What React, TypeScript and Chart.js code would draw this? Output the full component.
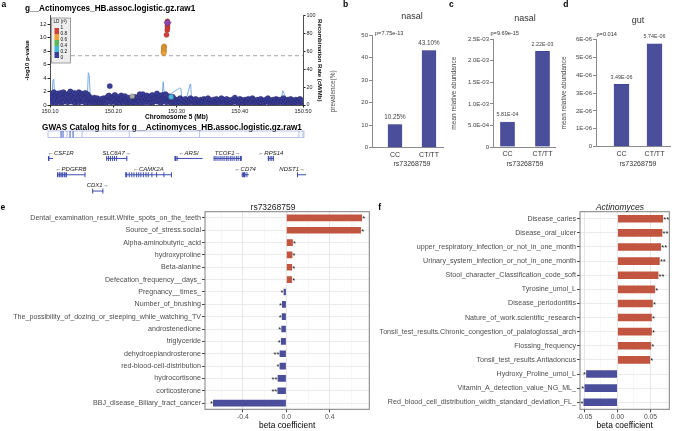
import React, { useEffect, useRef } from "react";
import { Chart, registerables } from "chart.js";
Chart.register(...registerables);

const FONT = '"Liberation Sans", Arial, Helvetica, sans-serif';
const NAVY = "#3A3D96";
const BAR_BLUE = "#4A4E9B";
const BAR_RED = "#C1553F";
const GENE_BLUE = "#3E4CB0";

// ---------------- Panel a : locus plot ----------------
const locusTitle = "g__Actinomyces_HB.assoc.logistic.gz.raw1";
const locusXTicks = [150.1, 150.2, 150.3, 150.4, 150.5];
const locusYTicks = [0, 2, 4, 6, 8, 10, 12];
const recombTicks = [0, 20, 40, 60, 80, 100];
const sigThreshold = 7.3;

const snpPos = [
  150.101, 150.1025, 150.1032, 150.1048, 150.106, 150.1071, 150.1085, 150.1093, 150.1108, 150.1117,
  150.113, 150.1142, 150.1155, 150.1163, 150.1178, 150.1186, 150.1199, 150.1212, 150.122, 150.1236,
  150.1244, 150.1258, 150.1265, 150.1279, 150.129, 150.1301, 150.1315, 150.1322, 150.1337, 150.1345,
  150.136, 150.1371, 150.1383, 150.1396, 150.1404, 150.1418, 150.143, 150.1441, 150.1455, 150.1462,
  150.1477, 150.1489, 150.1496, 150.151, 150.1523, 150.1531, 150.1546, 150.1558, 150.1567, 150.158,
  150.1592, 150.1604, 150.1617, 150.1625, 150.1639, 150.165, 150.1663, 150.1675, 150.1688, 150.1699,
  150.1712, 150.1724, 150.1737, 150.1745, 150.176, 150.1772, 150.1785, 150.1797, 150.181, 150.1821,
  150.1835, 150.1848, 150.1856, 150.187, 150.1882, 150.1895, 150.1908, 150.1917, 150.193, 150.1945,
  150.1958, 150.1966, 150.1979, 150.1992,
  150.2005, 150.2018, 150.2027, 150.204, 150.2052, 150.2066, 150.2075, 150.2089, 150.2101, 150.2113,
  150.2126, 150.2138, 150.2147, 150.216, 150.2172, 150.2185, 150.2197, 150.2209, 150.2222, 150.2235,
  150.2244, 150.2259, 150.227, 150.2283, 150.2296, 150.2318, 150.233, 150.2343, 150.2355, 150.2368,
  150.238, 150.2392, 150.2405, 150.2418, 150.243, 150.2443, 150.2455, 150.2468, 150.248, 150.2493,
  150.2505, 150.2518, 150.253, 150.2542, 150.2555, 150.2567, 150.258, 150.2592, 150.2604, 150.2617,
  150.2629, 150.2641, 150.2654, 150.2666, 150.2679, 150.2691, 150.2703, 150.2716, 150.2728, 150.2741,
  150.2753, 150.2766, 150.2778, 150.279, 150.2803, 150.2815, 150.2828, 150.284, 150.2852, 150.2865,
  150.2877, 150.289, 150.2902, 150.2915, 150.2927, 150.294, 150.2952, 150.2965, 150.2977, 150.299,
  150.3008, 150.3025, 150.3041, 150.3058, 150.3074, 150.309, 150.3106, 150.3123, 150.3139, 150.3155,
  150.3172, 150.3188, 150.3204, 150.3221, 150.3237, 150.3253, 150.327, 150.3286, 150.3302, 150.3318,
  150.3335, 150.3351, 150.3367, 150.3384, 150.34, 150.3416, 150.3433, 150.3449, 150.3465, 150.3482,
  150.3498, 150.3514, 150.3531, 150.3547, 150.3563, 150.358, 150.3596, 150.3612, 150.3629, 150.3645,
  150.3661, 150.3678, 150.3694, 150.371, 150.3727, 150.3743, 150.3759, 150.3776, 150.3792, 150.3808,
  150.3825, 150.3841, 150.3857, 150.3874, 150.389, 150.3906, 150.3923, 150.3939, 150.3955, 150.3972,
  150.3988, 150.4004, 150.4021, 150.4037, 150.4053, 150.407, 150.4086, 150.4102, 150.4119, 150.4135,
  150.4151, 150.4168, 150.4184, 150.42, 150.4217, 150.4233, 150.4249, 150.4266, 150.4282, 150.4298,
  150.4315, 150.4331, 150.4347, 150.4364, 150.438, 150.4396, 150.4413, 150.4429, 150.4445, 150.4462,
  150.4478, 150.4494, 150.4511, 150.4527, 150.4543, 150.456, 150.4576, 150.4592, 150.4609, 150.4625,
  150.4641, 150.4658, 150.4674, 150.469, 150.4707, 150.4723, 150.4739, 150.4756, 150.4772, 150.4788,
  150.4805, 150.4821, 150.4837, 150.4854, 150.487, 150.4886, 150.4903, 150.4919, 150.4935, 150.4952,
  150.4968, 150.4984,
];
const snpLogP = [
  0.9, 1.6, 0.4, 1.2, 1.9, 0.7, 1.4, 0.2, 1.1, 1.7,
  0.6, 1.3, 0.9, 1.8, 0.3, 1.5, 1.0, 1.9, 0.5, 1.2,
  1.6, 0.8, 1.4, 0.4, 1.1, 1.7, 0.7, 2.0, 1.3, 0.5,
  1.5, 0.9, 1.8, 0.3, 1.2, 1.6, 0.6, 1.0, 1.9, 0.4,
  1.4, 0.8, 1.7, 1.1, 0.5, 1.5, 0.9, 1.8, 0.3, 1.2,
  1.6, 0.7, 1.3, 0.4, 1.0, 0.6, 0.2, 0.9, 0.5, 1.1,
  0.3, 0.8, 0.4, 1.0, 0.6, 0.2, 0.7, 0.4, 0.9, 0.3,
  0.6, 1.0, 0.4, 0.7, 0.2, 0.8, 1.2, 0.5, 1.4, 2.8,
  0.9, 0.4, 1.1, 0.6,
  1.3, 0.7, 1.5, 0.3, 1.0, 0.5, 1.2, 0.8, 0.2, 0.9,
  1.4, 0.6, 1.1, 0.4, 0.8, 1.3, 0.5, 0.9, 0.3, 0.7,
  1.1, 0.4, 0.8, 0.2, 0.6, 0.9, 0.4, 1.2, 0.6, 0.3,
  0.8, 1.1, 0.5, 1.6, 0.7, 0.3, 1.0, 1.6, 0.6, 1.2,
  0.4, 0.9, 1.4, 0.5, 1.1, 0.8, 0.3, 1.3, 0.7, 1.5,
  0.4, 1.0, 0.6, 1.2, 0.9, 1.7, 0.5, 1.1, 0.7, 1.4,
  0.3, 0.9, 1.5, 0.6, 1.2, 0.8, 1.6, 0.4, 1.0, 0.7,
  1.3, 0.5, 0.9, 0.3, 0.8, 1.2, 0.5, 0.9, 0.4, 0.7,
  0.3, 0.8, 0.5, 1.0, 0.4, 0.7, 0.2, 0.6, 0.9, 0.4,
  0.7, 0.3, 0.6, 1.0, 0.5, 0.8, 0.3, 0.6, 0.9, 0.4,
  0.7, 0.2, 0.5, 0.8, 0.4, 0.6, 0.9, 0.3, 0.7, 0.5,
  1.0, 0.4, 0.7, 0.3, 0.6, 0.8, 0.2, 0.5, 0.9, 0.4,
  0.7, 0.3, 0.6, 1.0, 0.5, 0.8, 0.3, 0.6, 0.9, 0.4,
  0.7, 0.2, 0.5, 0.8, 0.4, 0.6, 1.1, 0.5, 0.7, 0.3,
  0.6, 0.9, 0.4, 0.7, 0.2, 0.5, 0.8, 0.4, 0.6, 0.9,
  0.3, 0.7, 0.5, 1.0, 0.4, 0.7, 0.3, 0.6, 0.8, 0.2,
  0.5, 0.9, 0.4, 0.7, 0.3, 0.6, 0.8, 0.5, 1.0, 0.4,
  0.7, 0.2, 0.5, 0.8, 0.4, 0.6, 0.9, 0.3, 0.7, 0.5,
  0.8, 0.4, 0.6, 1.0, 0.3, 0.7, 0.5, 0.8, 0.2, 0.6,
  0.9, 0.4, 0.7, 0.3, 0.6, 0.8, 0.4, 0.7, 0.5, 0.9,
  0.3, 0.6,
];

// SNPs with LD information (r2; null = no LD data)
const ldSnpPos = [150.2805, 150.28, 150.2798, 150.2802, 150.2795, 150.2798, 150.2842, 150.2854, 150.2858, 150.2856, 150.286, 150.2857, 150.23, 150.2915];
const ldSnpLogP = [8.7, 8.5, 8.3, 8.1, 7.9, 7.7, 10.4, 11.1, 11.4, 11.7, 12.0, 12.4, 1.3, 1.2];
const ldSnpR2: (number | null)[] = [0.7, 0.7, 0.7, 0.7, 0.7, 0.7, 0.9, 0.9, 0.9, 0.9, 0.9, 0.9, null, 0.3];
const leadSnpPos = [150.2858];
const leadSnpLogP = [12.2];

const ldLabels = ["1", "0.8", "0.6", "0.4", "0.2", "0"];
const ldColors = ["#D43F3A", "#EEA236", "#5CB85C", "#46B8DA", NAVY];

const recombPos = [
  150.1, 150.103, 150.1045, 150.106, 150.1075, 150.115, 150.13, 150.145, 150.156, 150.159,
  150.1605, 150.162, 150.164, 150.18, 150.2, 150.22, 150.24, 150.26, 150.272, 150.277,
  150.279, 150.281, 150.284, 150.29, 150.296, 150.301, 150.305, 150.307, 150.3085, 150.315,
  150.3215, 150.3225, 150.324, 150.34, 150.36, 150.38, 150.4, 150.42, 150.44, 150.46,
  150.466, 150.468, 150.47, 150.474, 150.49, 150.5,
];
const recombRate = [
  8, 9, 27, 29, 7, 5, 6, 4, 5, 7,
  36, 33, 6, 5, 4, 3, 4, 5, 6, 8,
  26, 9, 11, 12, 15, 17, 19, 18, 6, 5,
  23, 22, 4, 3, 5, 6, 8, 7, 5, 6,
  8, 16, 13, 6, 5, 4,
];

// ---------------- Panel a : gene track ----------------
const gwasTitle = "GWAS Catalog hits for g__Actinomyces_HB.assoc.logistic.gz.raw1";
const gwasHitPos = [150.1175, 150.1206, 150.127, 150.1317, 150.1365, 150.1508, 150.2254, 150.3365, 150.4937, 150.5];
const gwasHitStrong = [true, true, false, true, true, false, false, false, false, false];

const geneNames = ["CSF1R", "SLC6A7", "ARSI", "TCOF1", "RPS14", "PDGFRB", "CAMK2A", "CD74", "NDST1", "CDX1"];
const geneStart = [150.0968, 150.1889, 150.2968, 150.3587, 150.4444, 150.1111, 150.219, 150.4032, 150.4905, 150.1667];
const geneEnd = [150.1048, 150.2222, 150.3413, 150.4032, 150.454, 150.1556, 150.292, 150.4143, 150.5048, 150.1841];
const geneStrand = [-1, 1, -1, 1, -1, -1, -1, -1, 1, 1];
const geneRow = [0, 0, 0, 0, 0, 1, 1, 1, 1, 2];
const geneExons: number[][][] = [
  [[150.0968, 150.0992]],
  [[150.1889, 150.1902], [150.1918, 150.1931], [150.1949, 150.196], [150.1982, 150.1994], [150.2013, 150.2025], [150.2045, 150.2057], [150.2206, 150.2222]],
  [[150.2968, 150.2996], [150.3002, 150.3012]],
  [[150.3587, 150.3598], [150.3616, 150.3626], [150.3648, 150.3659], [150.3681, 150.3693], [150.3712, 150.3722], [150.3744, 150.3756], [150.3779, 150.3789], [150.3808, 150.382], [150.3842, 150.3852], [150.3871, 150.3884], [150.3903, 150.3913], [150.3938, 150.3949], [150.3967, 150.3978], [150.4002, 150.4032]],
  [[150.4444, 150.4468], [150.4485, 150.4505], [150.452, 150.454]],
  [[150.1111, 150.113], [150.1138, 150.1158], [150.1165, 150.1185], [150.119, 150.121], [150.1222, 150.1245], [150.1252, 150.1262], [150.1545, 150.1556]],
  [[150.219, 150.222], [150.2245, 150.2255], [150.2285, 150.2294], [150.232, 150.2329], [150.2362, 150.2372], [150.2395, 150.2404], [150.2428, 150.2438], [150.2468, 150.2478], [150.251, 150.2519], [150.2545, 150.2554], [150.2603, 150.2612], [150.2678, 150.2687], [150.2793, 150.2802], [150.2912, 150.292]],
  [[150.4032, 150.4045], [150.405, 150.409], [150.4105, 150.4118]],
  [[150.4905, 150.4915]],
  [[150.1667, 150.168], [150.1828, 150.1841]],
];

// ---------------- Panels b, c, d ----------------
const genotypes = ["CC", "CT/TT"];
const snpId = "rs73268759";
const nasalPrevalence = [10.25, 43.1];
const prevalenceTicks = [0, 10, 20, 30, 40, 50];
const nasalAbundance = [5.81e-4, 2.22e-3];
const nasalAbundanceTicks = [0, 5e-4, 1e-3, 1.5e-3, 2e-3, 2.5e-3];
const gutAbundance = [3.49e-6, 5.74e-6];
const gutAbundanceTicks = [0, 1e-6, 2e-6, 3e-6, 4e-6, 5e-6, 6e-6];
const pPrevalence = "p=7.75e-13";
const pNasal = "p=9.69e-15";
const pGut = "p=0.014";

// ---------------- Panel e ----------------
const eTraits = [
  "Dental_examination_result.White_spots_on_the_teeth",
  "Source_of_stress.social",
  "Alpha-aminobutyric_acid",
  "hydroxyproline",
  "Beta-alanine",
  "Defecation_frequency__days_",
  "Pregnancy__times_",
  "Number_of_brushing",
  "The_possibility_of_dozing_or_sleeping_while_watching_TV",
  "androstenedione",
  "triglyceride",
  "dehydroepiandrosterone",
  "red-blood-cell-distribution",
  "hydrocortisone",
  "corticosterone",
  "BBJ_disease_Biliary_tract_cancer",
];
const eBeta = [0.698, 0.688, 0.06, 0.056, 0.053, 0.052, -0.025, -0.04, -0.042, -0.046, -0.05, -0.062, -0.062, -0.08, -0.082, -0.676];
const eStars = ["*", "*", "*", "*", "*", "*", "*", "*", "*", "*", "*", "**", "*", "**", "**", "*"];
const eGridTicks = [-0.6, -0.4, -0.2, 0, 0.2, 0.4, 0.6];
const eMajorTicks = [-0.4, 0, 0.4];

// ---------------- Panel f ----------------
const fTraits = [
  "Disease_caries",
  "Disease_oral_ulcer",
  "upper_respiratory_infection_or_not_in_one_month",
  "Urinary_system_infection_or_not_in_one_month",
  "Stool_character_Classification_code_soft",
  "Tyrosine_umol_L",
  "Disease_periodontitis",
  "Nature_of_work.scientific_research",
  "Tonsil_test_results.Chronic_congestion_of_palatoglossal_arch",
  "Flossing_frequency",
  "Tonsil_test_results.Antiadoncus",
  "Hydroxy_Proline_umol_L",
  "Vitamin_A_detection_value_NG_ML_",
  "Red_blood_cell_distribution_width_standard_deviation_FL_",
];
const fBeta = [0.069, 0.068, 0.066, 0.064, 0.062, 0.057, 0.0535, 0.052, 0.052, 0.051, 0.0495, -0.0475, -0.05, -0.0515];
const fStars = ["**", "**", "**", "**", "**", "*", "*", "*", "*", "*", "*", "*", "*", "*"];
const fGridTicks = [-0.05, -0.025, 0, 0.025, 0.05, 0.075];
const fMajorTicks = [-0.05, 0, 0.05];

// ---------------- helpers ----------------
function txt(ctx: CanvasRenderingContext2D, s: string, x: number, y: number, font: string, color = "#333", align: CanvasTextAlign = "center", baseline: CanvasTextBaseline = "middle", rot = 0) {
  ctx.save();
  ctx.font = font;
  ctx.fillStyle = color;
  ctx.textAlign = align;
  ctx.textBaseline = baseline;
  if (rot) {
    ctx.translate(x, y);
    ctx.rotate(rot);
    ctx.fillText(s, 0, 0);
  } else ctx.fillText(s, x, y);
  ctx.restore();
}

function sci(v: number, d: number) {
  if (v === 0) return "0";
  const [m, e] = v.toExponential(d).split("e");
  const n = parseInt(e, 10);
  return m + "E" + (n < 0 ? "-" : "+") + String(Math.abs(n)).padStart(2, "0");
}

function ldColor(r2: number | null) {
  if (r2 === null) return "#A8A8A8";
  if (r2 >= 0.8) return ldColors[0];
  if (r2 >= 0.6) return ldColors[1];
  if (r2 >= 0.4) return ldColors[2];
  if (r2 >= 0.2) return ldColors[3];
  return ldColors[4];
}

const near = (list: number[], v: number) => list.some((m) => Math.abs(m - v) < 1e-9);

// ---------------- chart configs ----------------
function locusConfig(): any {
  const deco = {
    id: "locusDeco",
    afterDraw(chart: any) {
      const { ctx, chartArea: a } = chart;
      txt(ctx, "a", 1.5, 4.5, `bold 8.5px ${FONT}`, "#000", "left");
      txt(ctx, locusTitle, 25, 8.3, `bold 8.2px ${FONT}`, "#000", "left");
      // LD legend
      const x0 = a.left + 1.5;
      const y0 = a.top + 2.5;
      ctx.save();
      ctx.fillStyle = "#EDEDED";
      ctx.fillRect(x0, y0, 19, 45);
      ctx.strokeStyle = "#8A8A8A";
      ctx.lineWidth = 0.8;
      ctx.strokeRect(x0, y0, 19, 45);
      ctx.restore();
      txt(ctx, "LD (r\u00B2)", x0 + 2, y0 + 4, `4.6px ${FONT}`, "#111", "left");
      for (let i = 0; i < ldColors.length; i++) {
        ctx.fillStyle = ldColors[i];
        ctx.fillRect(x0 + 3, y0 + 10 + i * 6, 4.5, 6);
      }
      ldLabels.forEach((l, i) => txt(ctx, l, x0 + 9, y0 + 10 + i * 6, `4.8px ${FONT}`, "#111", "left"));
    },
  };
  const tickFont = { family: FONT, size: 6 };
  return {
    type: "scatter",
    data: {
      datasets: [
        {
          type: "line",
          data: recombPos.map((x, i) => ({ x, y: recombRate[i] })),
          yAxisID: "y2",
          borderColor: "#6FA3DC",
          borderWidth: 0.9,
          pointRadius: 0,
          tension: 0,
          order: 5,
        },
        {
          type: "line",
          data: [{ x: locusXTicks[0], y: sigThreshold }, { x: locusXTicks[locusXTicks.length - 1], y: sigThreshold }],
          yAxisID: "y",
          borderColor: "#9A9A9A",
          borderWidth: 0.9,
          borderDash: [4, 3],
          pointRadius: 0,
          order: 4,
        },
        {
          data: snpPos.map((x, i) => ({ x, y: snpLogP[i] })),
          yAxisID: "y",
          backgroundColor: NAVY,
          borderColor: "rgba(20,20,70,0.6)",
          borderWidth: 0.4,
          pointRadius: 2.7,
          order: 2,
        },
        {
          data: ldSnpPos.map((x, i) => ({ x, y: ldSnpLogP[i] })),
          yAxisID: "y",
          backgroundColor: ldSnpR2.map(ldColor),
          borderColor: "rgba(60,30,0,0.45)",
          borderWidth: 0.4,
          pointRadius: 2.6,
          order: 1,
        },
        {
          data: leadSnpPos.map((x, i) => ({ x, y: leadSnpLogP[i] })),
          yAxisID: "y",
          pointStyle: "rectRot",
          backgroundColor: "#8E44AD",
          borderColor: "#5B2470",
          borderWidth: 0.5,
          pointRadius: 3.6,
          order: 0,
        },
      ],
    },
    options: {
      responsive: false,
      animation: false,
      layout: { padding: { left: 24, top: 15.5, right: 0, bottom: 0 } },
      plugins: { legend: { display: false }, tooltip: { enabled: false } },
      scales: {
        x: {
          type: "linear",
          min: locusXTicks[0],
          max: locusXTicks[locusXTicks.length - 1],
          afterBuildTicks: (s: any) => { s.ticks = locusXTicks.map((v) => ({ value: v })); },
          afterFit: (s: any) => { s.height = 16; },
          ticks: { callback: (v: number) => v.toFixed(2), font: { family: FONT, size: 5.6 }, color: "#222", padding: 0.5, maxRotation: 0, autoSkip: false },
          grid: { drawOnChartArea: false, drawTicks: true, tickLength: 2.5, tickColor: "#222" },
          border: { color: "#222", width: 0.8 },
          title: { display: true, text: "Chromosome 5 (Mb)", font: { family: FONT, size: 6.5, weight: "bold" }, color: "#000", padding: 0 },
        },
        y: {
          type: "linear",
          position: "left",
          min: 0,
          max: 13.26,
          afterBuildTicks: (s: any) => { s.ticks = locusYTicks.map((v) => ({ value: v })); },
          afterFit: (s: any) => { s.width = 26; },
          ticks: { font: tickFont, color: "#222", padding: 1, autoSkip: false },
          grid: { drawOnChartArea: false, drawTicks: true, tickLength: 2.5, tickColor: "#222" },
          border: { color: "#222", width: 0.8 },
          title: { display: true, text: "-log10 p-value", font: { family: FONT, size: 6, weight: "bold" }, color: "#000", padding: 0 },
        },
        y2: {
          type: "linear",
          position: "right",
          min: 0,
          max: 100,
          afterBuildTicks: (s: any) => { s.ticks = recombTicks.map((v) => ({ value: v })); },
          afterFit: (s: any) => { s.width = 20; },
          ticks: { font: { family: FONT, size: 5.4 }, color: "#222", padding: 1, autoSkip: false },
          grid: { drawOnChartArea: false, drawTicks: true, tickLength: 2.5, tickColor: "#222" },
          border: { color: "#222", width: 0.8 },
          title: { display: true, text: "Recombination Rate (cM/Mb)", font: { family: FONT, size: 6, weight: "bold" }, color: "#000", padding: 0 },
        },
      },
    },
    plugins: [deco],
  };
}

function geneConfig(): any {
  const deco = {
    id: "geneDeco",
    afterDraw(chart: any) {
      const { ctx, chartArea: a, scales } = chart;
      const x = scales.x;
      const y = scales.y;
      txt(ctx, gwasTitle, 172, 9.7, `bold 8.2px ${FONT}`, "#000", "center");
      // GWAS catalog box
      const bx0 = a.left - 2;
      const bx1 = a.right + 1;
      const by0 = 13;
      const by1 = 19.5;
      ctx.save();
      ctx.lineWidth = 0.8;
      ctx.strokeStyle = "#A9B6E3";
      ctx.strokeRect(bx0, by0, bx1 - bx0, by1 - by0);
      gwasHitPos.forEach((p, i) => {
        const px = x.getPixelForValue(p);
        ctx.strokeStyle = gwasHitStrong[i] ? "#3C58C2" : "#9FB1E6";
        ctx.lineWidth = gwasHitStrong[i] ? 1 : 0.8;
        ctx.beginPath();
        ctx.moveTo(px, by0);
        ctx.lineTo(px, by1);
        ctx.stroke();
      });
      // genes
      ctx.font = `italic 6px ${FONT}`;
      geneNames.forEach((name, i) => {
        const gy = y.getPixelForValue(geneRow[i] + 0.5);
        const x0 = x.getPixelForValue(geneStart[i]);
        const x1 = x.getPixelForValue(geneEnd[i]);
        ctx.strokeStyle = GENE_BLUE;
        ctx.lineWidth = 1;
        ctx.beginPath();
        ctx.moveTo(x0, gy);
        ctx.lineTo(x1, gy);
        ctx.stroke();
        ctx.fillStyle = GENE_BLUE;
        for (const [e0, e1] of geneExons[i]) {
          const p0 = x.getPixelForValue(e0);
          const p1 = x.getPixelForValue(e1);
          ctx.fillRect(p0, gy - 2.5, Math.max(1, p1 - p0), 5);
        }
        const label = geneStrand[i] < 0 ? "\u2190" + name : name + "\u2192";
        ctx.font = `italic 6px ${FONT}`;
        const w = ctx.measureText(label).width;
        let cx = (x0 + x1) / 2;
        cx = Math.max(a.left - 2 + w / 2, Math.min(a.right + 2 - w / 2, cx));
        txt(ctx, label, cx, gy - 5.6, `italic 6px ${FONT}`, "#222", "center");
      });
      ctx.restore();
    },
  };
  return {
    type: "scatter",
    data: { datasets: [] },
    options: {
      responsive: false,
      animation: false,
      layout: { padding: { left: 50, right: 20, top: 32.3, bottom: 0.8 } },
      plugins: { legend: { display: false }, tooltip: { enabled: false } },
      scales: {
        x: { type: "linear", display: false, min: locusXTicks[0], max: locusXTicks[locusXTicks.length - 1] },
        y: { type: "linear", display: false, min: 0, max: 3, reverse: true },
      },
    },
    plugins: [deco],
  };
}

interface BarSpec {
  values: number[];
  yTicks: number[];
  yFmt: (v: number) => string;
  valFmt: (v: number) => string;
  valFont: number;
  xMin: number;
  xMax: number;
  padLeft: number;
  yWidth: number;
  padRight: number;
  padTop: number;
  xHeight: number;
  barWidth: number;
  yTitle: string;
  title: string;
  titleY: number;
  pText: string;
  pDx: number;
  pY: number;
  letter: string;
  letterX: number;
}

function barConfig(s: BarSpec): any {
  const deco = {
    id: "barDeco",
    afterDraw(chart: any) {
      const { ctx, chartArea: a, scales } = chart;
      const xs = genotypes.map((_, i) => scales.x.getPixelForValue(i + 1));
      const mid = (xs[0] + xs[xs.length - 1]) / 2;
      txt(ctx, s.letter, s.letterX, 4.5, `bold 8.5px ${FONT}`, "#000", "left");
      txt(ctx, s.title, mid, s.titleY, `9px ${FONT}`, "#333", "center");
      txt(ctx, s.pText, a.left + s.pDx, s.pY, `5.6px ${FONT}`, "#333", "left");
      const meta = chart.getDatasetMeta(0);
      meta.data.forEach((el: any, i: number) => {
        txt(ctx, s.valFmt(s.values[i]), el.x, el.y - 7, `${s.valFont}px ${FONT}`, "#444", "center");
      });
      txt(ctx, snpId, mid, 163.8, `7px ${FONT}`, "#333", "center");
    },
  };
  return {
    type: "bar",
    data: {
      datasets: [
        {
          data: s.values.map((v, i) => ({ x: i + 1, y: v })),
          backgroundColor: BAR_BLUE,
          borderColor: "#3B3F86",
          borderWidth: 0.5,
          barThickness: s.barWidth,
        },
      ],
    },
    options: {
      responsive: false,
      animation: false,
      layout: { padding: { left: s.padLeft, right: s.padRight, top: s.padTop, bottom: 0 } },
      plugins: { legend: { display: false }, tooltip: { enabled: false } },
      scales: {
        x: {
          type: "linear",
          offset: false,
          min: s.xMin,
          max: s.xMax,
          afterBuildTicks: (sc: any) => { sc.ticks = genotypes.map((_, i) => ({ value: i + 1 })); },
          afterFit: (sc: any) => { sc.height = s.xHeight; },
          ticks: { callback: (v: number) => genotypes[Math.round(v) - 1], font: { family: FONT, size: 7 }, color: "#333", padding: 3, maxRotation: 0, autoSkip: false },
          grid: { display: false, drawTicks: false, offset: false },
          border: { color: "#8A8A8A", width: 1 },
        },
        y: {
          type: "linear",
          min: s.yTicks[0],
          max: s.yTicks[s.yTicks.length - 1],
          afterBuildTicks: (sc: any) => { sc.ticks = s.yTicks.map((v) => ({ value: v })); },
          afterFit: (sc: any) => { sc.width = s.yWidth; },
          ticks: { callback: (v: number) => s.yFmt(v), font: { family: FONT, size: 6 }, color: "#444", padding: 1, autoSkip: false },
          grid: { drawOnChartArea: false, drawTicks: true, tickLength: 3, tickColor: "#8A8A8A" },
          border: { color: "#8A8A8A", width: 1 },
          title: { display: true, text: s.yTitle, font: { family: FONT, size: 6.5 }, color: "#444", padding: 0 },
        },
      },
    },
    plugins: [deco],
  };
}

interface HBarSpec {
  labels: string[];
  values: number[];
  stars: string[];
  xMin: number;
  xMax: number;
  gridTicks: number[];
  majorTicks: number[];
  digits: number;
  title: string;
  titleX: number;
  italic: boolean;
  letter: string;
  letterX: number;
  padRight: number;
}

function hbarConfig(s: HBarSpec): any {
  const deco = {
    id: "hbarDeco",
    afterDatasetsDraw(chart: any) {
      const { ctx, chartArea: a } = chart;
      const meta = chart.getDatasetMeta(0);
      ctx.save();
      meta.data.forEach((el: any, i: number) => {
        if (s.values[i] >= 0) txt(ctx, s.stars[i], el.x + 0.2, el.y + 1.3, `7.5px ${FONT}`, "#1A1A1A", "left");
        else txt(ctx, s.stars[i], el.x - 0.2, el.y + 1.3, `7.5px ${FONT}`, "#1A1A1A", "right");
      });
      ctx.strokeStyle = "#7F7F7F";
      ctx.lineWidth = 1;
      ctx.strokeRect(a.left, a.top, a.right - a.left, a.bottom - a.top);
      ctx.restore();
    },
    afterDraw(chart: any) {
      const { ctx } = chart;
      txt(ctx, s.letter, s.letterX, 9.3, `bold 8.5px ${FONT}`, "#000", "left");
      txt(ctx, s.title, s.titleX, 9.3, `${s.italic ? "italic " : ""}8.5px ${FONT}`, "#1A1A1A", "center");
    },
  };
  return {
    type: "bar",
    data: {
      labels: s.labels,
      datasets: [
        {
          data: s.values,
          backgroundColor: s.values.map((v) => (v >= 0 ? BAR_RED : BAR_BLUE)),
          barPercentage: 0.54,
          categoryPercentage: 1,
        },
      ],
    },
    options: {
      indexAxis: "y",
      responsive: false,
      animation: false,
      layout: { padding: { left: 0, right: s.padRight, top: 13.7, bottom: 0 } },
      plugins: { legend: { display: false }, tooltip: { enabled: false } },
      scales: {
        x: {
          type: "linear",
          min: s.xMin,
          max: s.xMax,
          afterBuildTicks: (sc: any) => { sc.ticks = s.gridTicks.map((v) => ({ value: v })); },
          afterFit: (sc: any) => { sc.height = 21.7; },
          ticks: {
            callback: (v: number) => (near(s.majorTicks, v) ? v.toFixed(s.digits) : ""),
            font: { family: FONT, size: 6.8 },
            color: "#4D4D4D",
            padding: 1,
            maxRotation: 0,
            autoSkip: false,
          },
          grid: {
            color: (c: any) => (c.tick && near(s.majorTicks, c.tick.value) ? "#E4E4E4" : "#F2F2F2"),
            lineWidth: (c: any) => (c.tick && near(s.majorTicks, c.tick.value) ? 0.9 : 0.6),
            drawTicks: true,
            tickLength: 3,
            tickColor: (c: any) => (c.tick && near(s.majorTicks, c.tick.value) ? "#333" : "rgba(0,0,0,0)"),
          },
          border: { display: false },
          title: { display: true, text: "beta coefficient", font: { family: FONT, size: 8.4 }, color: "#000", padding: 0 },
        },
        y: {
          type: "category",
          afterFit: (sc: any) => { sc.width = 205; },
          ticks: { font: { family: FONT, size: 7.12 }, color: "#4D4D4D", padding: 1, autoSkip: false },
          grid: { offset: false, color: "#E9E9E9", lineWidth: 0.9, drawTicks: true, tickLength: 3, tickColor: "#333" },
          border: { display: false },
        },
      },
    },
    plugins: [deco],
  };
}

// ---------------- components ----------------
function ChartBox(props: { left: number; top: number; width: number; height: number; build: () => any }) {
  const ref = useRef<HTMLCanvasElement>(null);
  useEffect(() => {
    const cv = ref.current;
    if (!cv) return;
    const chart = new Chart(cv, props.build());
    return () => chart.destroy();
  }, []);
  return (
    <canvas
      ref={ref}
      width={props.width}
      height={props.height}
      style={{ position: "absolute", left: props.left, top: props.top, width: props.width, height: props.height }}
    />
  );
}

export default function App() {
  return (
    <div style={{ position: "fixed", left: 0, top: 0, width: 685, height: 431, background: "#fff", overflow: "hidden" }}>
      <ChartBox left={0} top={0} width={323} height={121} build={locusConfig} />
      <ChartBox left={0} top={118} width={323} height={82} build={geneConfig} />
      <ChartBox
        left={320}
        top={0}
        width={128}
        height={168}
        build={() =>
          barConfig({
            values: nasalPrevalence,
            yTicks: prevalenceTicks,
            yFmt: (v) => String(v),
            valFmt: (v) => v.toFixed(2) + "%",
            valFont: 6.3,
            xMin: 0.3235,
            xMax: 2.412,
            padLeft: 9,
            yWidth: 43,
            padRight: 5,
            padTop: 35,
            xHeight: 20.3,
            barWidth: 14,
            yTitle: "prevalence(%)",
            title: "nasal",
            titleY: 17,
            pText: pPrevalence,
            pDx: 3,
            pY: 33.3,
            letter: "b",
            letterX: 23,
          })
        }
      />
      <ChartBox
        left={448}
        top={0}
        width={112}
        height={168}
        build={() =>
          barConfig({
            values: nasalAbundance,
            yTicks: nasalAbundanceTicks,
            yFmt: (v) => sci(v, 1),
            valFmt: (v) => sci(v, 2),
            valFont: 5.4,
            xMin: 0.586,
            xMax: 2.357,
            padLeft: 2,
            yWidth: 43,
            padRight: 5,
            padTop: 39.3,
            xHeight: 21,
            barWidth: 14,
            yTitle: "mean relative abundance",
            title: "nasal",
            titleY: 19,
            pText: pNasal,
            pDx: -2.5,
            pY: 33.3,
            letter: "c",
            letterX: 1,
          })
        }
      />
      <ChartBox
        left={560}
        top={0}
        width={125}
        height={168}
        build={() =>
          barConfig({
            values: gutAbundance,
            yTicks: gutAbundanceTicks,
            yFmt: (v) => sci(v, 0),
            valFmt: (v) => sci(v, 2),
            valFont: 5.4,
            xMin: 0.2273,
            xMax: 2.4697,
            padLeft: 0.3,
            yWidth: 35.7,
            padRight: 15,
            padTop: 39.3,
            xHeight: 21.3,
            barWidth: 15,
            yTitle: "mean relative abundance",
            title: "gut",
            titleY: 20.5,
            pText: pGut,
            pDx: 0.5,
            pY: 34,
            letter: "d",
            letterX: 3.3,
          })
        }
      />
      <ChartBox
        left={0}
        top={198}
        width={375}
        height={233}
        build={() =>
          hbarConfig({
            labels: eTraits,
            values: eBeta,
            stars: eStars,
            xMin: -0.75,
            xMax: 0.765,
            gridTicks: eGridTicks,
            majorTicks: eMajorTicks,
            digits: 1,
            title: snpId,
            titleX: 273,
            italic: false,
            letter: "e",
            letterX: 0.5,
            padRight: 5.7,
          })
        }
      />
      <ChartBox
        left={375}
        top={198}
        width={310}
        height={233}
        build={() =>
          hbarConfig({
            labels: fTraits,
            values: fBeta,
            stars: fStars,
            xMin: -0.0568,
            xMax: 0.0785,
            gridTicks: fGridTicks,
            majorTicks: fMajorTicks,
            digits: 2,
            title: "Actinomyces",
            titleX: 245,
            italic: true,
            letter: "f",
            letterX: 3.3,
            padRight: 15.7,
          })
        }
      />
    </div>
  );
}
